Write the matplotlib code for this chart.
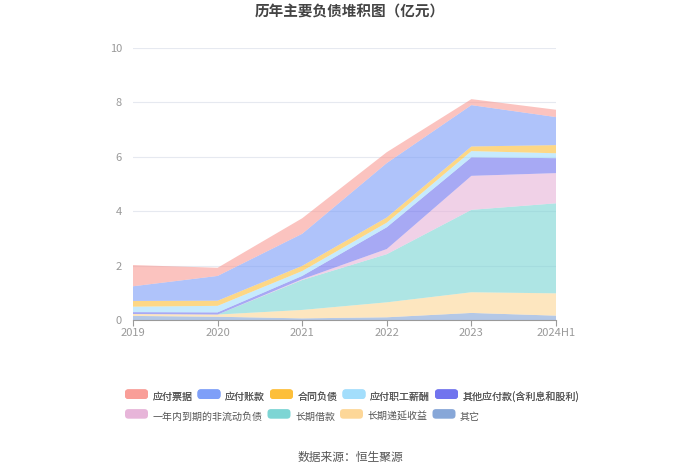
import numpy as np
import matplotlib
matplotlib.use("Agg")
import matplotlib.pyplot as plt
from matplotlib.patches import FancyBboxPatch
from matplotlib.legend_handler import HandlerPatch

plt.rcParams['font.family'] = ['Noto Sans CJK SC', 'DejaVu Sans']

years = ["2019", "2020", "2021", "2022", "2023", "2024H1"]
# 自下而上堆叠
qita = [0.15, 0.12, 0.06, 0.10, 0.26, 0.16]
diyan = [0.07, 0.08, 0.31, 0.55, 0.76, 0.82]
changqi_jk = [0.00, 0.00, 1.10, 1.77, 3.03, 3.31]
yinian = [0.00, 0.00, 0.03, 0.19, 1.25, 1.11]
qita_yf = [0.07, 0.08, 0.12, 0.80, 0.68, 0.55]
zhigong = [0.20, 0.24, 0.18, 0.17, 0.23, 0.18]
hetong = [0.21, 0.19, 0.19, 0.19, 0.17, 0.30]
zhangkuan = [0.54, 0.91, 1.18, 2.00, 1.52, 1.03]
piaoju = [0.78, 0.30, 0.57, 0.40, 0.22, 0.27]

names = ["应付票据", "应付账款", "合同负债", "应付职工薪酬", "其他应付款(含利息和股利)",
         "一年内到期的非流动负债", "长期借款", "长期递延收益", "其它"]
colors = ["#f99e98", "#7e9ff8", "#fdbf3a", "#a3defc", "#7174ee",
          "#e7b5d9", "#7dd5d4", "#fdd798", "#87a7d8"]

series = [piaoju, zhangkuan, hetong, zhigong, qita_yf, yinian, changqi_jk, diyan, qita]

fig = plt.figure(figsize=(7.0, 4.74), dpi=100)
ax = fig.add_axes([133 / 700, 1 - 320 / 474, (556 - 133) / 700, (320 - 48) / 474])

x = np.arange(len(years))
ax.stackplot(x, *series[::-1], colors=colors[::-1], alpha=0.62, linewidth=0)

ax.set_xlim(0, len(years) - 1)
ax.set_ylim(0, 10)
ax.set_yticks([0, 2, 4, 6, 8, 10])
ax.set_xticks(x)
ax.set_xticklabels(years)
ax.grid(axis="y", color="#e6e9f0", lw=0.8)
ax.set_axisbelow(True)
for s in ["top", "right", "left"]:
    ax.spines[s].set_visible(False)
ax.spines["bottom"].set_color("#9a9a9a")
ax.tick_params(axis="y", length=0, labelsize=8, labelcolor="#999999", pad=8)
ax.tick_params(axis="x", length=4, color="#9a9a9a", labelsize=8, labelcolor="#999999", pad=2)

fig.text(0.5, 1 - 12 / 474, "历年主要负债堆积图（亿元）", ha="center", va="center",
         fontsize=10.5, fontweight="bold", color="#444444")
fig.text(0.5, 1 - 457 / 474, "数据来源：恒生聚源", ha="center", va="center",
         fontsize=8.5, color="#555555")


class RoundHandler(HandlerPatch):
    def create_artists(self, legend, orig, xd, yd, w, h, fs, trans):
        p = FancyBboxPatch((xd, yd), w, h, boxstyle="round,pad=0,rounding_size=2.5",
                           fc=orig.get_facecolor(), ec="none", transform=trans)
        return [p]


handles = [plt.Rectangle((0, 0), 1, 1, fc=c, ec="none") for c in colors]
hm = {h: RoundHandler() for h in handles}
kw = dict(frameon=False, fontsize=7.2, handlelength=2.3, handleheight=1.1,
          handletextpad=0.45, columnspacing=0.5, borderaxespad=0, borderpad=0,
          labelcolor="#555555", handler_map=hm)
leg1 = fig.legend(handles[:5], names[:5], loc="center left",
                  bbox_to_anchor=(125 / 700, 1 - 397 / 474), ncol=5, **kw)
fig.add_artist(leg1)
fig.legend(handles[5:], names[5:], loc="center left",
           bbox_to_anchor=(125 / 700, 1 - 417 / 474), ncol=4, **kw)

fig.savefig("out.png", dpi=100)
